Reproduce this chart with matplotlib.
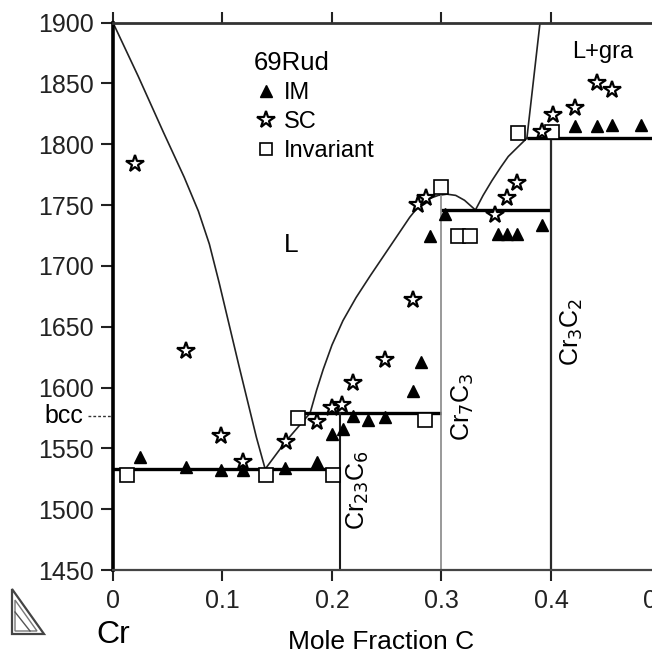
import matplotlib
matplotlib.use("Agg")
import matplotlib.pyplot as plt
import matplotlib.transforms as mtransforms
from matplotlib.lines import Line2D
from matplotlib.patches import Polygon

plt.rcParams['font.family'] = ['Liberation Sans', 'DejaVu Sans']

# 69Rud measurements (mole fraction C, temperature)
im_x = [0.025, 0.067, 0.099, 0.119, 0.157, 0.186, 0.200, 0.210, 0.219, 0.233, 0.248,
        0.274, 0.281, 0.2895, 0.303, 0.352, 0.360, 0.369, 0.392, 0.422, 0.442, 0.456, 0.482]
im_T = [1543, 1535, 1532, 1532, 1534, 1539, 1562, 1566, 1577, 1573, 1576,
        1597, 1621, 1725, 1743, 1726, 1726, 1726, 1734, 1815, 1815, 1816, 1816]

sc_x = [0.020, 0.067, 0.099, 0.119, 0.158, 0.186, 0.200, 0.209, 0.219, 0.248, 0.274,
        0.279, 0.286, 0.349, 0.360, 0.369, 0.392, 0.402, 0.422, 0.442, 0.456]
sc_T = [1784, 1630, 1560, 1539, 1555, 1572, 1583, 1586, 1604, 1623, 1672,
        1750, 1756, 1742, 1756, 1768, 1810, 1824, 1830, 1850, 1845]

inv_x = [0.013, 0.140, 0.201, 0.169, 0.285, 0.300, 0.315, 0.326, 0.370, 0.401]
inv_T = [1528, 1528, 1528, 1575, 1573, 1765, 1725, 1725, 1809, 1810]

# calculated liquidus branches
liq_bcc_x = [0.0, 0.023, 0.046, 0.065, 0.078, 0.088, 0.097, 0.115, 0.131, 0.139]
liq_bcc_T = [1900, 1856, 1810, 1773, 1745, 1718, 1686, 1618, 1559, 1533]

liq_c6_x = [0.139, 0.158, 0.180]
liq_c6_T = [1533, 1556, 1579]

liq_c3_x = [0.180, 0.186, 0.192, 0.200, 0.210, 0.222, 0.235, 0.250, 0.262, 0.271,
            0.279, 0.288, 0.297, 0.305, 0.313, 0.321, 0.326, 0.331]
liq_c3_T = [1579, 1598, 1615, 1635, 1655, 1674, 1692, 1712, 1728, 1740,
            1749, 1755, 1758, 1759, 1758, 1754, 1750, 1746]

liq_c2_x = [0.331, 0.338, 0.346, 0.354, 0.361, 0.370, 0.378]
liq_c2_T = [1746, 1758, 1770, 1781, 1790, 1798, 1805]

liq_gra_x = [0.378, 0.390]
liq_gra_T = [1805, 1900]

# invariant reactions
inv_line_T = [1533, 1579, 1746, 1805]
inv_line_x0 = [0.0, 0.165, 0.300, 0.378]
inv_line_x1 = [0.207, 0.300, 0.400, 0.5]

# stoichiometric carbides
carbide_x = [0.207, 0.300, 0.400]
carbide_top = [1579, 1759, 1805]
carbide_names = ['Cr$_{23}$C$_6$', 'Cr$_7$C$_3$', 'Cr$_3$C$_2$']

bcc_T = 1577

fig = plt.figure(figsize=(6.52, 6.57), dpi=100)
ax = fig.add_axes([0.1733, 0.1324, 0.8397, 0.8331])

for xs, ts in [(liq_bcc_x, liq_bcc_T), (liq_c6_x, liq_c6_T), (liq_c3_x, liq_c3_T),
               (liq_c2_x, liq_c2_T), (liq_gra_x, liq_gra_T)]:
    ax.plot(xs, ts, color='#222222', lw=1.2, solid_joinstyle='round')

for t, x0, x1 in zip(inv_line_T, inv_line_x0, inv_line_x1):
    ax.plot([x0, x1], [t, t], color='black', lw=2.4, solid_capstyle='butt')

carbide_colors = ['#1a1a1a', '#888888', '#2a2a2a']
carbide_lw = [1.5, 1.2, 1.6]
for x, top, c, w in zip(carbide_x, carbide_top, carbide_colors, carbide_lw):
    ax.plot([x, x], [1450, top], color=c, lw=w)

# carbide labels, rotated along the lines
ax.text(carbide_x[0] + 0.017, 1516, carbide_names[0], rotation=90, fontsize=18,
        ha='center', va='center')
ax.text(carbide_x[1] + 0.020, 1584, carbide_names[1], rotation=90, fontsize=18,
        ha='center', va='center')
ax.text(carbide_x[2] + 0.019, 1646, carbide_names[2], rotation=90, fontsize=18,
        ha='center', va='center')

ax.plot(im_x, im_T, ls='none', marker='^', ms=9, color='black', zorder=5)
ax.plot(sc_x, sc_T, ls='none', marker='*', ms=13, mfc='white', mec='black',
        mew=1.6, zorder=6)
ax.plot(inv_x, inv_T, ls='none', marker='s', ms=10, mfc='white', mec='black',
        mew=1.2, zorder=4)

ax.text(0.163, 1717, 'L', fontsize=19, ha='center', va='center')
ax.text(0.447, 1876, 'L+gra', fontsize=17, ha='center', va='center')

# bcc marker on the left of the axis
trans = mtransforms.blended_transform_factory(ax.transAxes, ax.transData)
ax.plot([-0.046, 0.0], [bcc_T, bcc_T], ls=(0, (2, 1.5)), color='#333333', lw=1.0,
        transform=trans, clip_on=False)
ax.text(-0.089, bcc_T, 'bcc', fontsize=18, ha='center', va='center', transform=trans)

handles = [Line2D([], [], ls='none', marker='^', ms=9, color='black'),
           Line2D([], [], ls='none', marker='*', ms=13, mfc='white', mec='black', mew=1.6),
           Line2D([], [], ls='none', marker='s', ms=9, mfc='white', mec='black', mew=1.2)]
leg = ax.legend(handles, ['IM', 'SC', 'Invariant'], title='69Rud', loc='upper left',
                bbox_to_anchor=(0.258, 0.948), frameon=False, fontsize=17,
                title_fontsize=18.5, alignment='left', borderpad=0, borderaxespad=0,
                handlelength=1.0, handletextpad=0.25, labelspacing=0.3)

ax.set_xlim(0, 0.5)
ax.set_ylim(1450, 1900)
ax.set_xticks([0, 0.1, 0.2, 0.3, 0.4, 0.5])
ax.set_xticklabels(['0', '0.1', '0.2', '0.3', '0.4', '0.5'])
ax.set_yticks(range(1450, 1901, 50))

ax.tick_params(axis='both', direction='out', labelsize=18, width=1.5, colors='#222222')
ax.tick_params(axis='y', length=9, pad=5)
ax.tick_params(axis='x', length=8, pad=6, top=True)

ax.spines['right'].set_visible(False)
ax.spines['left'].set_linewidth(2.6)
ax.spines['top'].set_linewidth(2.0)
ax.spines['bottom'].set_linewidth(1.6)
ax.spines['bottom'].set_color('#444444')
ax.spines['top'].set_color('#333333')

ax.text(0.0, -0.119, 'Cr', fontsize=23, ha='center', va='center',
        transform=mtransforms.blended_transform_factory(ax.transData, ax.transAxes))
ax.text(0.4895, -0.1316, 'Mole Fraction C', fontsize=19, ha='center', va='center',
        transform=ax.transAxes)

# small ternary icon in the corner
def px(p):
    return [(x / 652, 1 - y / 657) for x, y in p]

fig.add_artist(Polygon(px([(12, 589), (12, 634), (44, 634)]), closed=True, fill=False,
                       ec='#444444', lw=1.6, transform=fig.transFigure))
fig.add_artist(Polygon(px([(15, 600), (15, 631), (37, 631)]), closed=True, fill=False,
                       ec='#777777', lw=1.0, transform=fig.transFigure))
fig.add_artist(Line2D([15 / 652, 30 / 652], [1 - 612 / 657, 1 - 631 / 657],
                      color='#555555', lw=1.0, transform=fig.transFigure))

fig.savefig('out.png', dpi=100)
